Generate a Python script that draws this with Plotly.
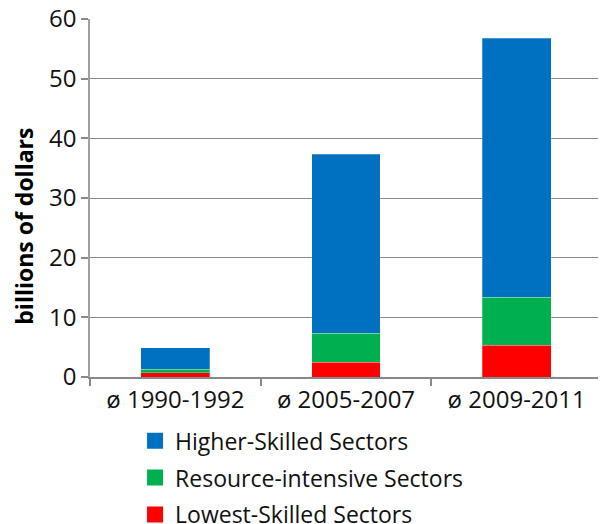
import plotly.graph_objects as go

categories = ["ø 1990-1992", "ø 2005-2007", "ø 2009-2011"]
lowest = [0.7, 2.5, 5.3]
resource = [0.6, 4.8, 8.1]
higher = [3.6, 30.0, 43.4]
series_names = ["Lowest-Skilled Sectors", "Resource-intensive Sectors", "Higher-Skilled Sectors"]
colors = ["#ff0000", "#00b050", "#0070c0"]
y_title = "billions of dollars"

FONT = "Open Sans"
TXT = "#111111"

fig = go.Figure()
for name, vals, col in zip(series_names, [lowest, resource, higher], colors):
    fig.add_trace(go.Bar(
        x=categories, y=vals, name=name, legendgroup=name, showlegend=False,
        marker=dict(color=col, line=dict(color="rgba(255,255,255,0.5)", width=0.5)),
    ))
# legend entries (top to bottom: Higher, Resource, Lowest)
for name, col in reversed(list(zip(series_names, colors))):
    fig.add_trace(go.Scatter(
        x=[None], y=[None], mode="markers", name=name, legendgroup=name,
        marker=dict(symbol="square", size=16, color=col),
        hoverinfo="skip",
    ))

fig.update_layout(
    barmode="stack",
    bargap=0.596,
    width=606, height=540,
    margin=dict(l=82, r=12, t=11, b=171),
    paper_bgcolor="white", plot_bgcolor="white",
    font=dict(family=FONT, size=23, color=TXT),
    showlegend=True,
    legend=dict(
        traceorder="grouped", orientation="v",
        x=0.088, y=-0.118, xanchor="left", yanchor="top",
        font=dict(family=FONT, size=23, color=TXT),
        tracegroupgap=4, itemwidth=30,
        bgcolor="rgba(0,0,0,0)",
    ),
    xaxis=dict(
        type="category", range=[-0.5, 2.5], automargin=False,
        showline=True, linecolor="#888888", linewidth=1.5,
        ticks="outside", tickson="boundaries", ticklen=7, tickcolor="#888888", tickwidth=1.5,
        showgrid=False,
        tickfont=dict(family=FONT, size=24, color=TXT),
    ),
    yaxis=dict(
        range=[0, 60], dtick=10, automargin=False, ticklabeloverflow="allow",
        showline=True, linecolor="#a0a0a0", linewidth=1.5,
        ticks="outside", ticklen=7, tickcolor="#888888", tickwidth=1.5,
        showgrid=True, gridcolor="#888888", gridwidth=1,
        zeroline=False,
        tickfont=dict(family=FONT, size=24, color=TXT),
    ),
    annotations=[dict(
        text="<b>" + y_title + "</b>", textangle=-90,
        xref="paper", yref="paper", x=-0.1295, y=0.4218,
        xanchor="center", yanchor="middle", showarrow=False,
        font=dict(family=FONT, size=23, color="#000"),
    )],
)

fig.write_html("out.html")
